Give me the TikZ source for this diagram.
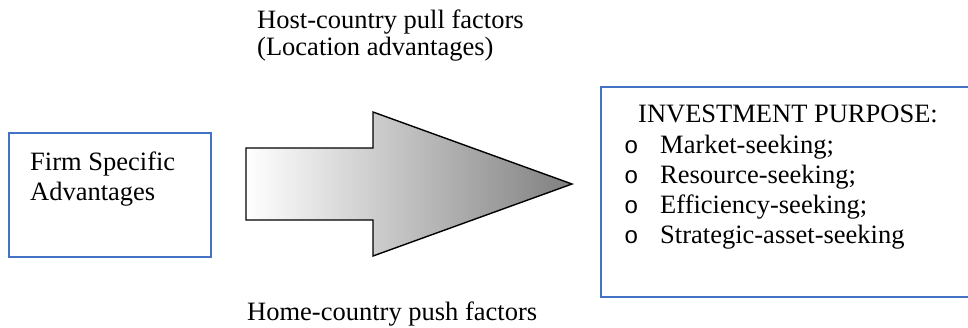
\documentclass[tikz,border=0pt]{standalone}
\usepackage{fontspec}
\setmainfont{Liberation Serif}
\newfontfamily\bulletfont{Liberation Mono}
\definecolor{boxblue}{HTML}{4472C4}
\begin{document}
\begin{tikzpicture}[x=1pt,y=-1pt,
  bluebox/.style={draw=boxblue,line width=2.6pt,rectangle,inner sep=0pt,fill=white},
  txt/.style={anchor=base west,inner sep=0pt,font=\fontsize{26.5}{30}\selectfont},
  bul/.style={anchor=base west,inner sep=0pt,font=\bulletfont\fontsize{24}{30}\selectfont}]
\useasboundingbox (0,0) rectangle (968,327);
\begin{scope}
\clip (0,0) rectangle (968,327);
% left box
\node[bluebox,minimum width=202pt,minimum height=124pt] (firm) at (110,195) {};
\node[txt] (firmA) at (30,170) {Firm Specific};
\node[txt] (firmB) at (30,200) {Advantages};
% arrow
\shade[left color=white,right color=black!50,draw=black,line width=1.4pt,line join=miter]
  (246,148) -- (373,148) -- (373,112) -- (572,184) -- (373,256) -- (373,220) -- (246,220) -- cycle;
% right box
\node[bluebox,minimum width=374pt,minimum height=210pt] (purpose) at (788,192) {};
\end{scope}
\node[txt] (host1) at (257,28) {Host-country pull factors};
\node[txt] (host2) at (257,55) {(Location advantages)};
\node[txt] (home) at (247,320) {Home-country push factors};
\node[txt] (ptitle) at (638,122) {INVESTMENT PURPOSE:};
\node[bul] (b1) at (624,153) {o};
\node[bul] (b2) at (624,183) {o};
\node[bul] (b3) at (624,213) {o};
\node[bul] (b4) at (624,243) {o};
\node[txt] (i1) at (660,153) {Market-seeking;};
\node[txt] (i2) at (660,183) {Resource-seeking;};
\node[txt] (i3) at (660,213) {Efficiency-seeking;};
\node[txt] (i4) at (660,243) {Strategic-asset-seeking};
\end{tikzpicture}
\end{document}
